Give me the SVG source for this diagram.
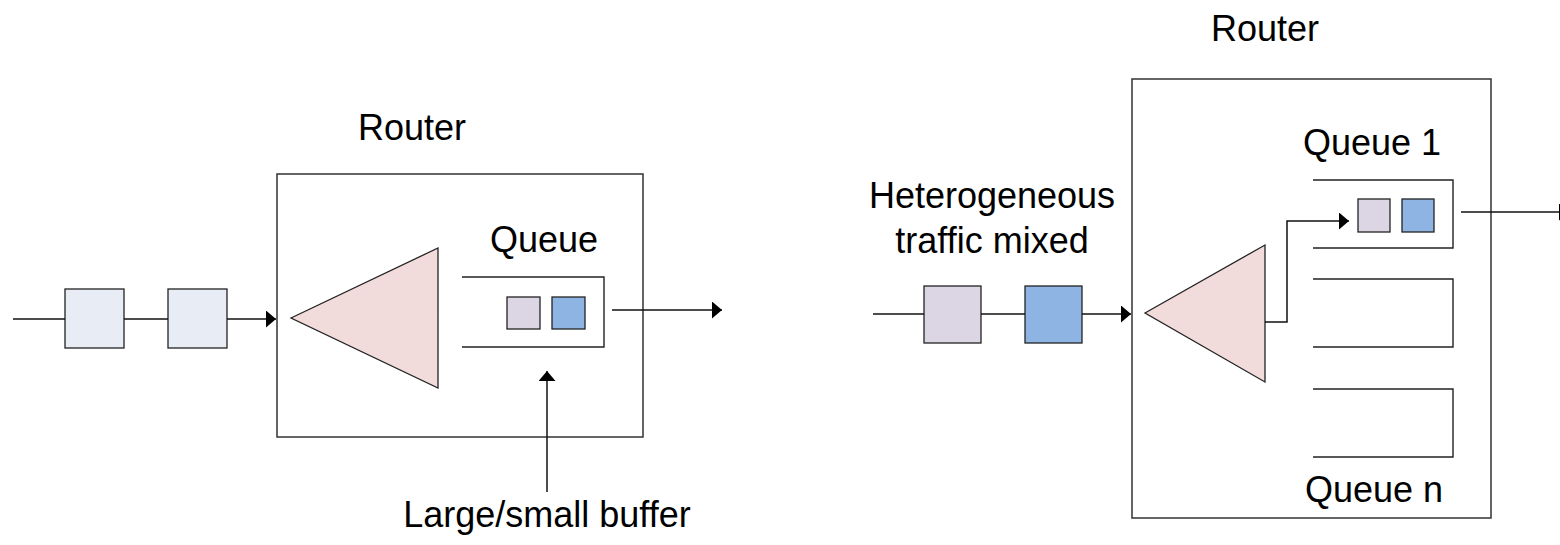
<svg xmlns="http://www.w3.org/2000/svg" width="1560" height="545" viewBox="0 0 1560 545">
  <style>
    .txt { font-family: "Liberation Sans", Arial, sans-serif; font-size: 36px; fill: #000; text-anchor: middle; }
    .box { fill: #fff; stroke: #333; stroke-width: 1.5; }
    .wire { fill: none; stroke: #111; stroke-width: 1.5; }
    .pkt { stroke: #222; stroke-width: 1.3; }
    .grey { fill: #e8ecf4; }
    .lilac { fill: #dcd6e4; }
    .blue { fill: #8eb4e3; }
    .tri { fill: #f2dcdb; stroke: #222; stroke-width: 1.3; }
    .slot { fill: none; stroke: #222; stroke-width: 1.4; }
  </style>
  <defs>
    <marker id="head" markerUnits="userSpaceOnUse" markerWidth="11" markerHeight="18" refX="10" refY="8.5" orient="auto">
      <path d="M0,0 L10,8.5 L0,17 z" fill="#000"/>
    </marker>
  </defs>

  <!-- Left: single-queue router -->
  <g id="router-left">
    <rect class="box" x="277" y="174" width="366" height="263"/>
    <text class="txt" transform="translate(412,140) scale(1,1.05)">Router</text>
  </g>
  <g id="classifier-left">
    <polygon class="tri" points="291,318 438,248 438,388"/>
  </g>
  <g id="queue-left">
    <path class="slot" d="M462,277 H604 V347 H462"/>
    <rect class="pkt lilac" x="507" y="297" width="33" height="32"/>
    <rect class="pkt blue" x="552" y="297" width="33" height="32"/>
    <text class="txt" transform="translate(544,252) scale(1,1.05)">Queue</text>
  </g>
  <g id="packets-left">
    <rect class="pkt grey" x="65" y="289" width="59" height="59"/>
    <rect class="pkt grey" x="168" y="289" width="59" height="59"/>
  </g>
  <g id="buffer-label">
    <text class="txt" transform="translate(547,527) scale(1,1.05)">Large/small buffer</text>
  </g>

  <!-- Right: multi-queue router -->
  <g id="router-right">
    <rect class="box" x="1132" y="79" width="359" height="439"/>
    <text class="txt" transform="translate(1265,41) scale(1,1.05)">Router</text>
  </g>
  <g id="classifier-right">
    <polygon class="tri" points="1145,313 1265,245 1265,382"/>
  </g>
  <g id="queue-1">
    <path class="slot" d="M1313,180 H1453 V248 H1313"/>
    <rect class="pkt lilac" x="1358" y="199" width="32" height="33"/>
    <rect class="pkt blue" x="1402" y="199" width="32" height="33"/>
    <text class="txt" transform="translate(1372,155) scale(1,1.05)">Queue 1</text>
  </g>
  <g id="queue-2">
    <path class="slot" d="M1313,279 H1453 V347 H1313"/>
  </g>
  <g id="queue-n">
    <path class="slot" d="M1313,389 H1453 V457 H1313"/>
    <text class="txt" transform="translate(1374,502) scale(1,1.05)">Queue n</text>
  </g>
  <g id="packets-right">
    <rect class="pkt lilac" x="924" y="286" width="57" height="57"/>
    <rect class="pkt blue" x="1025" y="286" width="57" height="57"/>
  </g>
  <g id="traffic-label">
    <text class="txt" transform="translate(992,208) scale(1,1.05)">Heterogeneous</text>
    <text class="txt" transform="translate(992,253) scale(1,1.05)">traffic mixed</text>
  </g>

  <!-- Connectors -->
  <g id="connectors">
    <line class="wire" x1="13" y1="319" x2="65" y2="319"/>
    <line class="wire" x1="124" y1="319" x2="168" y2="319"/>
    <line class="wire" x1="227" y1="319" x2="276" y2="319" marker-end="url(#head)"/>
    <line class="wire" x1="612" y1="310" x2="722" y2="310" marker-end="url(#head)"/>
    <line class="wire" x1="547" y1="492" x2="547" y2="371" marker-end="url(#head)"/>

    <line class="wire" x1="873" y1="314" x2="924" y2="314"/>
    <line class="wire" x1="981" y1="314" x2="1025" y2="314"/>
    <line class="wire" x1="1082" y1="314" x2="1131" y2="314" marker-end="url(#head)"/>
    <polyline class="wire" points="1265,322 1287,322 1287,221 1349,221" marker-end="url(#head)"/>
    <line class="wire" x1="1461" y1="212" x2="1569" y2="212" marker-end="url(#head)"/>
  </g>
</svg>
